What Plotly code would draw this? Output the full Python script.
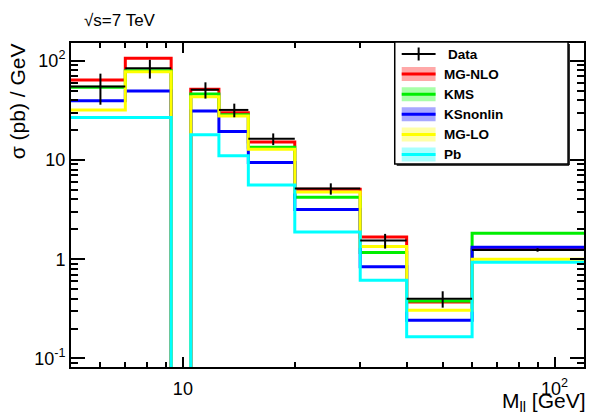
import math
import plotly.graph_objects as go

# ---------------- data ----------------
edges = [5, 7, 9.3, 10.5, 12.5, 15, 20, 30, 40, 60, 120]
mg_nlo = [64, 106, 0, 51.5, 29.9, 15.2, 5.07, 1.67, 0.37, 1.26]
kms = [54, 79, 0, 46.2, 28.5, 13.4, 4.21, 1.17, 0.38, 1.83]
ksnonlin = [39.5, 49.5, 0, 31.1, 19.3, 9.4, 3.16, 0.84, 0.243, 1.32]
mg_lo = [31.9, 77.4, 0, 43.4, 27.7, 12.8, 4.76, 1.34, 0.306, 1.0]
pb = [26.8, 26.8, 0, 17.9, 11.0, 5.6, 1.88, 0.615, 0.165, 0.93]
data_vals = [55, 84, None, 51, 31.9, 16.3, 5.14, 1.54, 0.40, 1.24]
data_errs = [19, 18, None, 9.5, 5, 2.2, 0.67, 0.26, 0.075, 0.05]

series_names = ["MG-NLO", "KMS", "KSnonlin", "MG-LO", "Pb"]
series_vals = [mg_nlo, kms, ksnonlin, mg_lo, pb]
line_colors = ["#ff0000", "#00ee00", "#0000ff", "#ffff00", "#00ffff"]
fill_colors = ["#ffa8a8", "#a8ffa8", "#a8a8ff", "#ffffa8", "#a8ffff"]

x_tickvals = [10, 100]
x_ticktext = ["10", "10<sup>2</sup>"]
y_tickvals = [0.1, 1, 10, 100]
y_ticktext = ["10<sup>-1</sup>", "1", "10", "10<sup>2</sup>"]

# ---------------- geometry ----------------
W, H = 590, 416
L, R, T, B = 71, 586, 43, 367
xr = [math.log10(5), math.log10(120)]
yr = [-1.086, 2.178]
FONT = "Liberation Sans, Arial, Helvetica, sans-serif"


def px(X):
    return (X - L) / (R - L)


def py(Y):
    return (B - Y) / (B - T)


floor = 10 ** (yr[0] - 2)

fig = go.Figure()
for name, vals, col in zip(series_names, series_vals, line_colors):
    yv = [v if v > 0 else floor for v in vals]
    fig.add_trace(go.Scatter(
        x=edges, y=yv + [yv[-1]], mode="lines", line_shape="hv",
        line=dict(color=col, width=3), name=name, showlegend=False,
        hoverinfo="skip"))

dx, dy, de, dw = [], [], [], []
for i, v in enumerate(data_vals):
    if v is None:
        continue
    lo, hi = edges[i], edges[i + 1]
    dx.append((lo + hi) / 2)
    dw.append((hi - lo) / 2)
    dy.append(v)
    de.append(data_errs[i])

fig.add_trace(go.Scatter(
    x=dx, y=dy, mode="markers", marker=dict(size=2, color="black"),
    error_x=dict(type="data", array=dw, color="black", thickness=2, width=0),
    error_y=dict(type="data", array=de, color="black", thickness=2, width=0),
    name="Data", showlegend=False))

# ---------------- legend (ROOT style) ----------------
shapes = []
annots = []
lx0, ly0, lx1, ly1 = 396, 42, 570, 164
shapes.append(dict(type="rect", xref="paper", yref="paper",
                   x0=px(lx0), x1=px(lx1), y0=py(ly1), y1=py(ly0),
                   line=dict(color="black", width=1.5), fillcolor="white", layer="above"))
shapes.append(dict(type="line", xref="paper", yref="paper",
                   x0=px(lx1 + 1), x1=px(lx1 + 1), y0=py(ly1 + 1), y1=py(ly0 + 2),
                   line=dict(color="black", width=1.5), layer="above"))
shapes.append(dict(type="line", xref="paper", yref="paper",
                   x0=px(lx0 + 2), x1=px(lx1 + 1), y0=py(ly1 + 1), y1=py(ly1 + 1),
                   line=dict(color="black", width=1.5), layer="above"))

sx0, sx1 = 403, 437
rows = [54 + 20.1 * k for k in range(6)]
# Data entry
yc = rows[0]
shapes.append(dict(type="line", xref="paper", yref="paper", x0=px(sx0), x1=px(sx1),
                   y0=py(yc), y1=py(yc), line=dict(color="black", width=2), layer="above"))
shapes.append(dict(type="line", xref="paper", yref="paper", x0=px(420), x1=px(420),
                   y0=py(yc - 6.5), y1=py(yc + 6.5), line=dict(color="black", width=2), layer="above"))
annots.append(dict(text="<b>Data</b>", xref="paper", yref="paper", x=px(447), y=py(yc),
                   xanchor="left", yanchor="middle", showarrow=False,
                   font=dict(family=FONT, size=13.5, color="black")))
for k, (name, lc, fc) in enumerate(zip(series_names, line_colors, fill_colors)):
    yc = rows[k + 1]
    shapes.append(dict(type="rect", xref="paper", yref="paper", x0=px(sx0), x1=px(sx1),
                       y0=py(yc + 7), y1=py(yc - 7), line=dict(width=0), fillcolor=fc, layer="above"))
    shapes.append(dict(type="line", xref="paper", yref="paper", x0=px(sx0), x1=px(sx1),
                       y0=py(yc), y1=py(yc), line=dict(color=lc, width=3), layer="above"))
    annots.append(dict(text="<b>%s</b>" % name, xref="paper", yref="paper", x=px(443), y=py(yc),
                       xanchor="left", yanchor="middle", showarrow=False,
                       font=dict(family=FONT, size=13.5, color="black")))

# titles
annots.append(dict(text="√s=7 TeV", xref="paper", yref="paper", x=px(82), y=py(21),
                   xanchor="left", yanchor="middle", showarrow=False,
                   font=dict(family=FONT, size=17, color="black")))
annots.append(dict(text="σ (pb) / GeV", xref="paper", yref="paper", x=px(17), y=py(41),
                   xanchor="center", yanchor="top", textangle=-90, showarrow=False,
                   font=dict(family=FONT, size=21, color="black")))
annots.append(dict(text="M<sub>ll</sub> [GeV]", xref="paper", yref="paper", x=px(590), y=py(417),
                   xanchor="right", yanchor="bottom", showarrow=False,
                   font=dict(family=FONT, size=21, color="black")))

x_minor = [6, 7, 8, 9, 20, 30, 40, 50, 60, 70, 80, 90]
y_minor = [m * 10 ** e for e in range(-2, 3) for m in range(2, 10)]

fig.update_layout(
    width=W, height=H, margin=dict(l=L, r=W - R, t=T, b=H - B),
    paper_bgcolor="white", plot_bgcolor="white", showlegend=False,
    shapes=shapes, annotations=annots,
    font=dict(family=FONT, size=18, color="black"),
    xaxis=dict(type="log", range=xr, showgrid=False, zeroline=False,
               showline=True, linecolor="black", linewidth=2, mirror="allticks",
               ticks="inside", ticklen=10, tickwidth=1.5, tickcolor="black",
               tickmode="array", tickvals=x_tickvals, ticktext=x_ticktext,
               ticklabelstandoff=4,
               minor=dict(ticks="inside", ticklen=5, tickwidth=1.5, tickcolor="black",
                          tickmode="array", tickvals=x_minor, showgrid=False),
               tickfont=dict(family=FONT, size=18, color="black")),
    yaxis=dict(type="log", range=yr, showgrid=False, zeroline=False,
               showline=True, linecolor="black", linewidth=2, mirror="allticks",
               ticks="inside", ticklen=14, tickwidth=1.5, tickcolor="black",
               tickmode="array", tickvals=y_tickvals, ticktext=y_ticktext,
               minor=dict(ticks="inside", ticklen=7, tickwidth=1.5, tickcolor="black",
                          tickmode="array", tickvals=y_minor, showgrid=False),
               tickfont=dict(family=FONT, size=18, color="black")),
)

fig.write_html("out.html", config={"displayModeBar": False},
               post_script="document.body.style.margin='0';")
